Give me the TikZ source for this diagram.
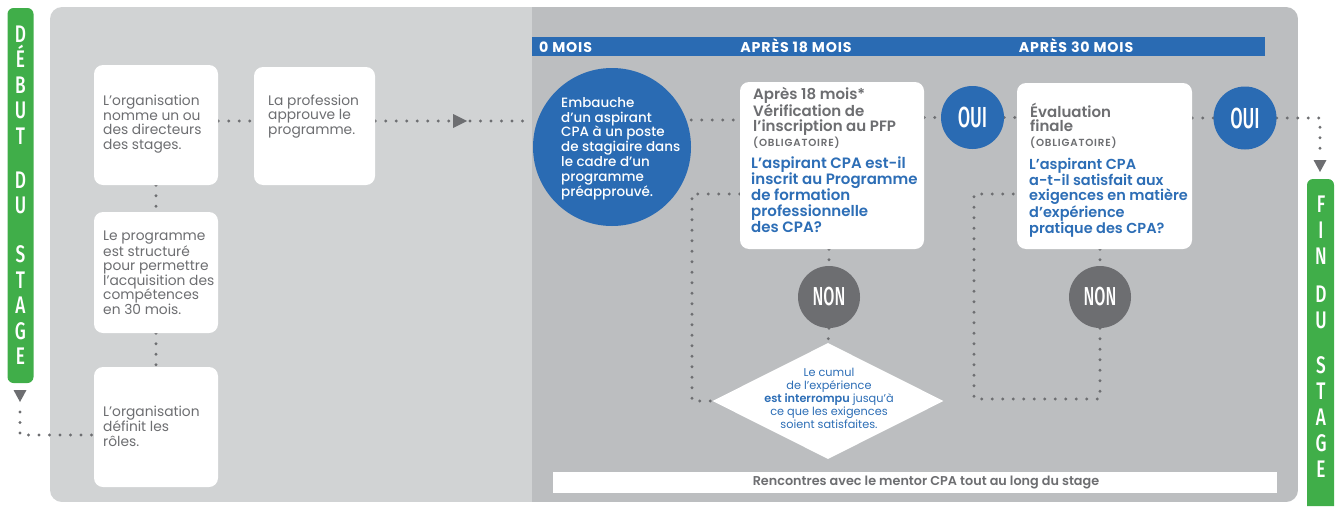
\documentclass[tikz,border=0pt]{standalone}
\usepackage{fontspec}
\setmainfont{Poppins}
\newfontfamily\popm{Poppins Medium}
\newfontfamily\popsb{Poppins SemiBold}
\newfontfamily\hdrf[LetterSpace=6]{Poppins Bold}
\newfontfamily\oblf[LetterSpace=8]{Poppins SemiBold}
\newfontfamily\condf[FakeStretch=0.62]{Fira Sans Medium}
\newfontfamily\condb[FakeStretch=0.72]{Fira Sans Medium}
\usetikzlibrary{shapes.geometric}
\definecolor{grn}{RGB}{64,174,73}
\definecolor{cblue}{RGB}{42,107,179}
\definecolor{tblue}{RGB}{45,110,182}
\definecolor{dgray}{RGB}{109,110,113}
\definecolor{plight}{RGB}{209,211,212}
\definecolor{pdark}{RGB}{188,190,192}
\pgfdeclarelayer{back}
\pgfdeclarelayer{links}
\pgfsetlayers{back,links,main}
\newcommand\myfs[2]{\fontsize{#1}{#2}\selectfont}
\begin{document}
\begin{tikzpicture}[x=1pt,y=-1pt,
  wbox/.style={fill=white, rounded corners=9pt, inner sep=0pt},
  boxtxt/.style={anchor=base west, align=left, inner sep=0pt, text=dgray, font={\myfs{13.8}{14.4}}},
  dots/.style={draw=dgray, line width=3.2pt, line cap=round, dash pattern=on 0pt off 10.5pt},
  bluec/.style={circle, fill=cblue, inner sep=0pt, minimum size=63pt, text=white, font={\condf\myfs{29}{30}}},
  grayc/.style={circle, fill=dgray, inner sep=0pt, minimum size=62pt, text=white, font={\condf\myfs{26}{27}}},
  headtxt/.style={anchor=base west, align=left, inner sep=0pt, text=dgray, font={\popsb\myfs{15}{14.5}}},
  obltxt/.style={anchor=base west, inner sep=0pt, text=dgray, font={\oblf\myfs{10.3}{11}}},
  qtxt/.style={anchor=base west, align=left, inner sep=0pt, text=tblue, font={\popsb\myfs{15}{16}}},
  hdrtxt/.style={inner sep=0pt, text=white, font={\hdrf\myfs{14.2}{14.5}}},
  bartxt/.style={align=center, inner sep=0pt, text=white, font={\condb\myfs{24}{25.5}}}
]
\useasboundingbox (0,0) rectangle (1335,506);

% panel
\begin{pgfonlayer}{back}
\begin{scope}
\clip[rounded corners=12pt] (50,7) rectangle (1298,502);
\fill[plight] (50,7) rectangle (532,502);
\fill[pdark] (532,7) rectangle (1298,502);
\end{scope}
\end{pgfonlayer}

% start / end bars
\node[fill=grn, rounded corners=6pt, minimum width=26pt, minimum height=375pt, inner sep=0pt] (debut) at (20.5,195.5) {};
\node[bartxt, anchor=north] (debuttxt) at (20.5,25.5) {D\\É\\B\\U\\T\\[18.5pt]D\\U\\[23.5pt]S\\T\\A\\G\\E};
\fill[grn] (1307,506) [rounded corners=6pt] -- (1307,179) -- (1334,179) [sharp corners] -- (1334,506) -- cycle;
\node[bartxt, anchor=north, font={\condb\myfs{24}{26}}] (fintxt) at (1321,196) {F\\I\\N\\[12pt]D\\U\\[19pt]S\\T\\A\\G\\E};

% header
\node[fill=cblue, minimum width=733pt, minimum height=19pt, inner sep=0pt, anchor=north west] (hdr) at (532,37) {};
\node[hdrtxt, anchor=base west] (h0) at (539,52.5) {0 MOIS};
\node[hdrtxt, anchor=base] (h18) at (796,52.5) {APRÈS 18 MOIS};
\node[hdrtxt, anchor=base] (h30) at (1076,52.5) {APRÈS 30 MOIS};

% left boxes
\node[wbox, minimum width=124pt, minimum height=120pt] (box1) at (156,125) {};
\node[wbox, minimum width=121pt, minimum height=118pt] (box2) at (314.5,126) {};
\node[wbox, minimum width=124pt, minimum height=121pt] (box3) at (156,272.5) {};
\node[wbox, minimum width=124pt, minimum height=120pt] (box4) at (156,427) {};
% base = baseline of the last line
\node[boxtxt] (t1) at (103,149) {L’organisation\\nomme un ou\\des directeurs\\des stages.};
\node[boxtxt] (t2) at (268,134) {La profession\\approuve le\\programme.};
\node[boxtxt] (t3) at (103,314) {Le programme\\est structuré\\pour permettre\\l’acquisition des\\compétences\\en 30 mois.};
\node[boxtxt] (t4) at (103,446) {L’organisation\\définit les\\rôles.};

% hiring circle
\node[circle, fill=cblue, minimum size=158pt, inner sep=0pt] (emb) at (612,147) {};
\node[anchor=base west, align=left, inner sep=0pt, text=white, font={\popm\myfs{13.5}{14.8}}] (embtxt) at (561,196)
  {Embauche\\d’un aspirant\\CPA à un poste\\de stagiaire dans\\le cadre d’un\\programme\\préapprouvé.};

% question boxes
\node[wbox, minimum width=184pt, minimum height=167pt] (q1) at (832,165.5) {};
\node[headtxt] (q1h) at (753,131) {Après 18 mois*\\Vérification de\\l’inscription au PFP};
\node[obltxt] (q1o) at (753,146) {(OBLIGATOIRE)};
\node[qtxt] (q1q) at (751,232) {L’aspirant CPA est-il\\inscrit au Programme\\de formation\\professionnelle\\des CPA?};

\node[wbox, minimum width=175pt, minimum height=166pt] (q2) at (1104.5,166) {};
\node[headtxt] (q2h) at (1030,131.5) {Évaluation\\finale};
\node[obltxt] (q2o) at (1030,146) {(OBLIGATOIRE)};
\node[qtxt, font={\popsb\myfs{14.5}{15.6}}] (q2q) at (1029,233) {L’aspirant CPA\\a-t-il satisfait aux\\exigences en matière\\d’expérience\\pratique des CPA?};

% yes / no circles
\node[bluec] (oui1) at (972.5,117.5) {OUI};
\node[bluec] (oui2) at (1245,118) {OUI};
\node[grayc] (non1) at (829,297) {NON};
\node[grayc] (non2) at (1100,297) {NON};

% diamond
\node[diamond, fill=white, minimum width=231pt, minimum height=116pt, inner sep=0pt] (dia) at (828,401) {};
\node[align=center, inner sep=0pt, text=tblue, font={\myfs{11.3}{13}}] (diatxt) at (829,398)
  {Le cumul\\de l’expérience\\{\popsb est interrompu} jusqu’à\\ce que les exigences\\soient satisfaites.};

% mentor bar
\node[fill=white, minimum width=724pt, minimum height=21pt, inner sep=0pt, anchor=north west] (mentor) at (553,472) {};
\node[inner sep=0pt, text=dgray, font={\popsb\myfs{12.8}{13}}] (mentortxt) at (926,483) {Rencontres avec le mentor CPA tout au long du stage};

% arrow heads
\fill[dgray] (13.5,390) -- (26.5,390) -- (20,402) -- cycle;
\fill[dgray] (453,114) -- (467,121) -- (453,128) -- cycle;
\fill[dgray] (1313.5,160) -- (1326.5,160) -- (1320,172) -- cycle;

% connectors
\coordinate (lA) at (0,121);
\coordinate (triL) at (451,121);
\coordinate (triR) at (470,121);
\coordinate (lB) at (0,120);
\coordinate (d0) at (20,412);
\coordinate (d1) at (20,435);
\coordinate (fc) at (1320,118);
\coordinate (fa) at (1320,155);
\coordinate (l1a) at (692,194);
\coordinate (l1b) at (692,401);
\coordinate (l2a) at (1100,399);
\coordinate (l2b) at (974,399);
\coordinate (l2c) at (974,194);
\begin{pgfonlayer}{links}
\draw[dots] (d0) -- (d1) -- (d1-|box4.west);
\draw[dots] (box1.south) -- (box3.north);
\draw[dots] (box3.south) -- (box4.north);
\draw[dots] (box1.east|-lA) -- (box2.west|-lA);
\draw[dots] (box2.east|-lA) -- (triL);
\draw[dots] (triR) -- (emb.west|-lA);
\draw[dots] (emb.east|-lB) -- (q1.west|-lB);
\draw[dots] (q1.east|-oui1) -- (oui1.west);
\draw[dots] (oui1.east) -- (q2.west|-oui1);
\draw[dots] (q2.east|-oui2) -- (oui2.west);
\draw[dots] (oui2.east) -- (fc) -- (fa);
\draw[dots] (non1.north|-q1.south) -- (non1.north);
\draw[dots] (non1.south) -- (dia.north);
\draw[dots] (q1.west|-l1a) -- (l1a) -- (l1b) -- (dia.west);
\draw[dots] (non2.north|-q2.south) -- (non2.north);
\draw[dots] (non2.south) -- (l2a) -- (l2b) -- (l2c) -- (q2.west|-l2c);
\end{pgfonlayer}
\end{tikzpicture}
\end{document}
